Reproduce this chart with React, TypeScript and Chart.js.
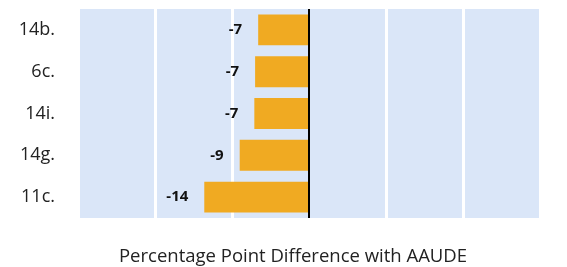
import React, { useEffect, useRef } from "react";
import { Chart, registerables } from "chart.js";

Chart.register(...registerables);

const categories = ["14b.", "6c.", "14i.", "14g.", "11c."];
const values = [-6.6, -7.0, -7.1, -9.0, -13.6];
const xTitle = "Percentage Point Difference with AAUDE";

const FONT = "'Open Sans', Lato, sans-serif";

const bgPlugin = {
  id: "plotBg",
  beforeDraw(chart: any) {
    const { ctx, chartArea } = chart;
    ctx.save();
    ctx.fillStyle = "#DAE6F8";
    ctx.fillRect(chartArea.left, chartArea.top, chartArea.right - chartArea.left, chartArea.bottom - chartArea.top);
    ctx.restore();
  },
};

const labelPlugin = {
  id: "barLabels",
  afterDatasetsDraw(chart: any) {
    const { ctx } = chart;
    const meta = chart.getDatasetMeta(0);
    ctx.save();
    ctx.font = `bold 15px ${FONT}`;
    ctx.fillStyle = "#111111";
    ctx.textAlign = "right";
    ctx.textBaseline = "middle";
    meta.data.forEach((bar: any, i: number) => {
      const v = values[i];
      ctx.fillText(String(Math.round(v)), bar.x - 16, bar.y);
    });
    ctx.restore();
  },
};

const titlePlugin = {
  id: "xTitleText",
  afterDraw(chart: any) {
    const { ctx, chartArea } = chart;
    ctx.save();
    ctx.font = `18.5px ${FONT}`;
    ctx.fillStyle = "#222222";
    ctx.textAlign = "center";
    ctx.textBaseline = "alphabetic";
    ctx.fillText(xTitle, chartArea.left + 215, chartArea.bottom + 44);
    ctx.restore();
  },
};

export default function App() {
  const ref = useRef<HTMLCanvasElement | null>(null);
  useEffect(() => {
    document.body.style.margin = "0";
    const chart = new Chart(ref.current!, {
      type: "bar",
      data: {
        labels: categories,
        datasets: [
          {
            data: values,
            backgroundColor: "#F0AA22",
            categoryPercentage: 1,
            barPercentage: 0.74,
          },
        ],
      },
      options: {
        indexAxis: "y",
        animation: false,
        responsive: false,
        layout: { padding: { top: 9, right: 27, left: 0, bottom: 0 } },
        plugins: { legend: { display: false }, tooltip: { enabled: false } },
        scales: {
          x: {
            min: -30,
            max: 30,
            ticks: { display: false, stepSize: 10 },
            border: { display: false },
            grid: {
              drawTicks: false,
              color: (c: any) => (c.tick && c.tick.value === 0 ? "#000000" : "#FFFFFF"),
              lineWidth: (c: any) => (c.tick && c.tick.value === 0 ? 2 : 3),
            },
            afterFit(axis: any) {
              axis.height = 49;
              axis.paddingLeft = 0;
              axis.paddingRight = 0;
            },
          },
          y: {
            grid: { display: false, drawTicks: false },
            border: { display: false },
            ticks: {
              color: "#222222",
              font: { family: FONT, size: 18 },
              padding: 23,
            },
            afterFit(axis: any) {
              axis.width = 78;
              axis.paddingTop = 0;
              axis.paddingBottom = 0;
            },
          },
        },
      },
      plugins: [bgPlugin, labelPlugin, titlePlugin],
    });
    return () => chart.destroy();
  }, []);
  return (
    <div style={{ width: 567, height: 267 }}>
      <canvas ref={ref} width={567} height={267} />
    </div>
  );
}
